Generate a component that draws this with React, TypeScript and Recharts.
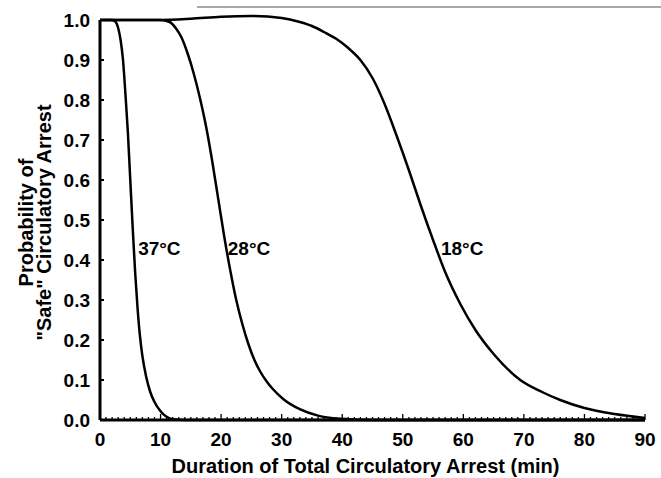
import React from "react";
import { LineChart, Line, XAxis, YAxis, ReferenceLine, ReferenceDot } from "recharts";

// ---- data ----
const t37 = [0, 2, 2.6, 3.0, 3.4, 3.8, 4.2, 4.6, 5.0, 5.4, 5.8, 6.2, 6.6, 7.0, 7.6, 8.3, 9.0, 10.0, 11.0, 12.0, 14.0, 90];
const p37 = [1.0, 1.0, 0.995, 0.98, 0.95, 0.9, 0.815, 0.72, 0.6, 0.48, 0.37, 0.28, 0.21, 0.16, 0.11, 0.07, 0.045, 0.022, 0.008, 0.002, 0, 0];

const t28 = [0, 10, 11.5, 12.5, 13.5, 14.5, 15.5, 16.5, 17.5, 18.5, 19.5, 20.5, 21.5, 22.5, 23.5, 24.5, 25.5, 26.5, 27.5, 28.5, 30.3, 33, 36, 40, 45, 90];
const p28 = [1.0, 1.0, 0.995, 0.98, 0.955, 0.915, 0.865, 0.805, 0.735, 0.65, 0.555, 0.46, 0.375, 0.3, 0.24, 0.19, 0.15, 0.12, 0.097, 0.078, 0.052, 0.027, 0.011, 0.003, 0, 0];

const t18 = [0, 10, 15, 20, 25, 30, 33, 35, 37, 39, 41, 43, 45, 47, 49, 51, 53, 55, 57, 59.5, 62, 65, 69.4, 73, 76, 80, 85, 90];
const p18 = [1.0, 1.0, 1.003, 1.008, 1.01, 1.005, 0.995, 0.985, 0.97, 0.953, 0.93, 0.9, 0.855, 0.79, 0.71, 0.625, 0.535, 0.45, 0.37, 0.29, 0.225, 0.165, 0.1, 0.07, 0.05, 0.03, 0.015, 0.005];

const xMajorTicks = [0, 10, 20, 30, 40, 50, 60, 70, 80, 90];
const xMinorTicks = Array.from({ length: 91 }, (_, i) => i);
const yTicks = [0, 0.1, 0.2, 0.3, 0.4, 0.5, 0.6, 0.7, 0.8, 0.9, 1.0];

const curveLabels = [
  { text: "37°C", t: 6.3, p: 0.4125 },
  { text: "28°C", t: 21.1, p: 0.4125 },
  { text: "18°C", t: 56.3, p: 0.4125 },
];

const xTitle = "Duration of Total Circulatory Arrest (min)";
const yTitle1 = "Probability of";
const yTitle2 = "\"Safe\" Circulatory Arrest";

const toSeries = (ts: number[], ps: number[]) => ts.map((t, i) => ({ t, p: ps[i] }));
const s37 = toSeries(t37, p37);
const s28 = toSeries(t28, p28);
const s18 = toSeries(t18, p18);

const FONT = "'Liberation Sans', Arial, Helvetica, sans-serif";

const XTick = (props: any) => {
  const { x, y, payload } = props;
  const v = payload.value;
  const major = xMajorTicks.includes(v);
  return (
    <g>
      <line x1={x} x2={x} y1={y} y2={y - (major ? 6 : 3)} stroke="#000" strokeWidth={1.3} />
      {major && (
        <text x={x} y={y + 26} textAnchor="middle" fontFamily={FONT} fontWeight="bold" fontSize={19} fill="#000">
          {v}
        </text>
      )}
    </g>
  );
};

const YTick = (props: any) => {
  const { x, y, payload } = props;
  const v = payload.value as number;
  return (
    <g>
      <line x1={x} x2={x + 4} y1={y} y2={y} stroke="#000" strokeWidth={2} />
      <text x={x - 10} y={y + 6.5} textAnchor="end" fontFamily={FONT} fontWeight="bold" fontSize={19} fill="#000">
        {v.toFixed(1)}
      </text>
    </g>
  );
};

const XTitle = (props: any) => {
  const { viewBox } = props;
  return (
    <text
      x={viewBox.x + viewBox.width / 2 - 7}
      y={viewBox.y + 53}
      textAnchor="middle"
      fontFamily={FONT}
      fontWeight="bold"
      fontSize={20}
      fill="#000"
    >
      {xTitle}
    </text>
  );
};

const YTitle = (props: any) => {
  const { viewBox } = props;
  const cy = viewBox.y + viewBox.height / 2 + 5;
  const x1 = 33;
  const x2 = 51;
  return (
    <g fontFamily={FONT} fontWeight="bold" fontSize={20} fill="#000">
      <text x={x1} y={cy} textAnchor="middle" transform={`rotate(-90 ${x1} ${cy})`}>
        {yTitle1}
      </text>
      <text x={x2} y={cy} textAnchor="middle" transform={`rotate(-90 ${x2} ${cy})`}>
        {yTitle2}
      </text>
    </g>
  );
};

export default function App() {
  return (
    <div style={{ position: "absolute", left: 0, top: 0, width: 661, height: 478, background: "#fff" }}>
      <div style={{ position: "absolute", left: 197, top: 6, width: 464, height: 2, background: "#a8a8a8" }} />
      <LineChart width={661} height={478} margin={{ top: 15, right: 16, bottom: 28, left: 40 }}>
        <XAxis
          dataKey="t"
          type="number"
          domain={[0, 90]}
          ticks={xMinorTicks}
          interval={0}
          tickSize={0}
          tickMargin={0}
          tickLine={false}
          tick={<XTick />}
          axisLine={{ stroke: "#000", strokeWidth: 3 }}
          height={30}
          allowDuplicatedCategory={false}
          label={<XTitle />}
        />
        <YAxis
          type="number"
          domain={[0, 1.0125]}
          ticks={yTicks}
          interval={0}
          tickSize={0}
          tickMargin={0}
          tickLine={false}
          tick={<YTick />}
          axisLine={false}
          width={60}
          label={<YTitle />}
        />
        <ReferenceLine
          segment={[
            { x: 0, y: 0 },
            { x: 0, y: 1 },
          ]}
          stroke="#000"
          strokeWidth={3}
          ifOverflow="visible"
        />
        <Line data={s37} dataKey="p" type="monotone" stroke="#000" strokeWidth={2.5} dot={false} isAnimationActive={false} />
        <Line data={s28} dataKey="p" type="monotone" stroke="#000" strokeWidth={2.5} dot={false} isAnimationActive={false} />
        <Line data={s18} dataKey="p" type="monotone" stroke="#000" strokeWidth={2.5} dot={false} isAnimationActive={false} />
        {curveLabels.map((c) => (
          <ReferenceDot
            key={c.text}
            x={c.t}
            y={c.p}
            r={0}
            stroke="none"
            fill="none"
            label={(lp: any) => (
              <text
                x={lp.viewBox.x}
                y={lp.viewBox.y}
                textAnchor="start"
                fontFamily={FONT}
                fontWeight="bold"
                fontSize={19}
                fill="#000"
              >
                {c.text}
              </text>
            )}
          />
        ))}
      </LineChart>
    </div>
  );
}
